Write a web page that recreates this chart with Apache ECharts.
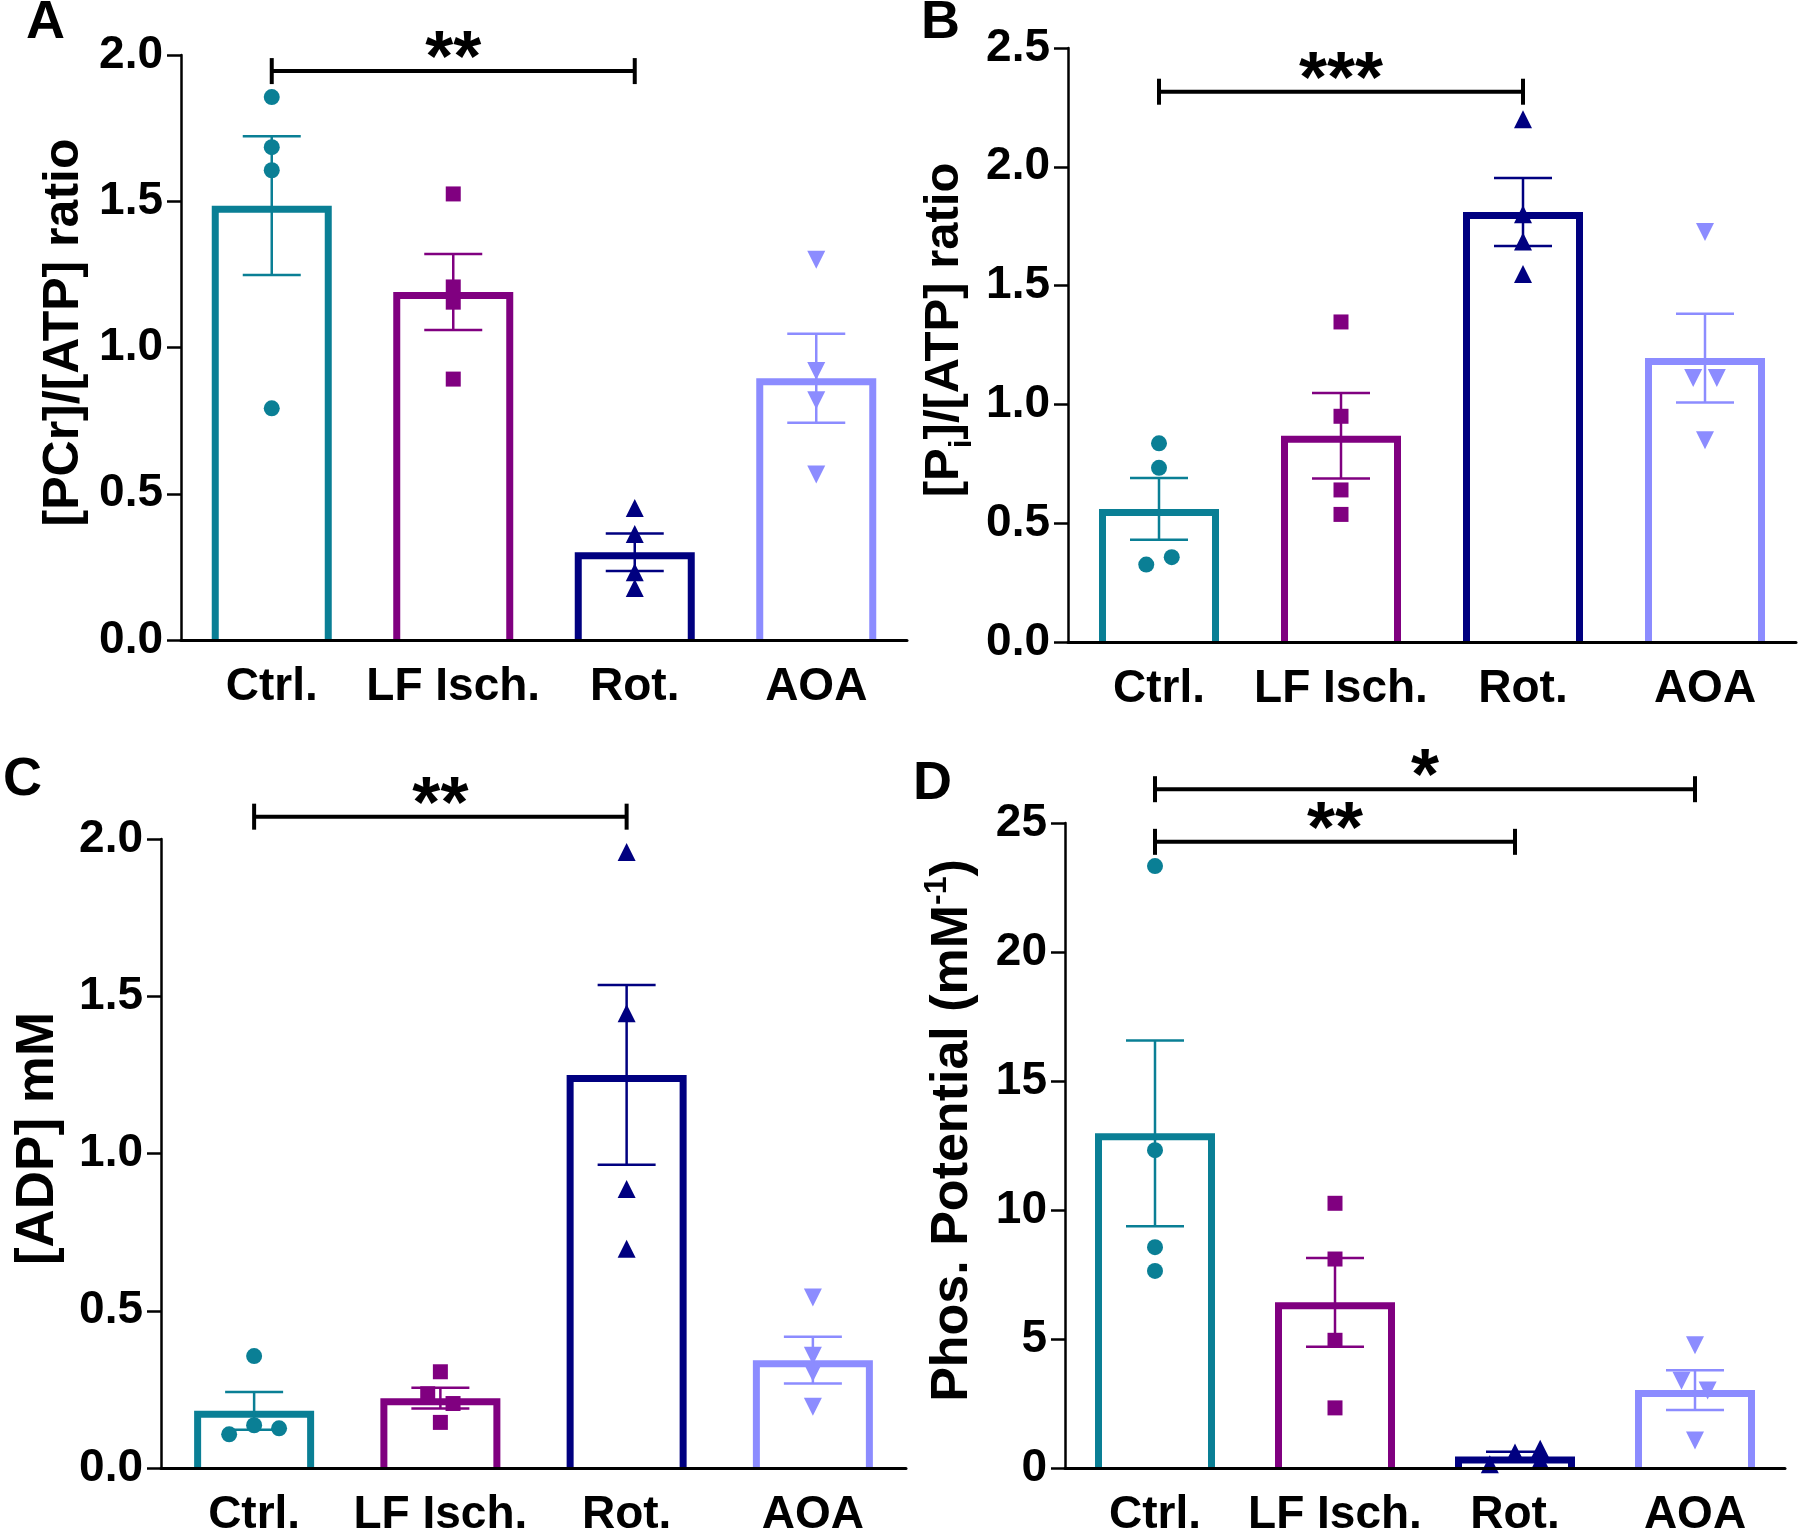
<!DOCTYPE html>
<html><head><meta charset="utf-8">
<script src="https://cdn.jsdelivr.net/npm/echarts@6/dist/echarts.min.js"></script>
<style>html,body{margin:0;padding:0;background:#fff}#c{width:1800px;height:1538px}</style>
</head><body><div id="c"></div><script>
// ---------- data ----------
const categories = ['Ctrl.', 'LF Isch.', 'Rot.', 'AOA'];
const groupColors = ['#0A7F95', '#800080', '#000080', '#8C8CFF'];

// Panel A: [PCr]/[ATP]
const pcrMeans = [1.485, 1.19, 0.30, 0.895];
const pcrSem = [0.237, 0.13, 0.064, 0.152];
const pcrPoints = [[1.856, 1.685, 1.606, 0.792], [1.525, 1.207, 1.155, 0.892], [0.451, 0.362, 0.232, 0.178], [1.30, 0.92, 0.82, 0.566]];
const pcrJitter = [[0, 0, 0, 0], [0, 0, 0, 0], [0, 0, 0, 0], [0, 0, 0, 0]];
const pcrBrackets = [[0, 2, 1.945]];
const pcrStars = ['**'];
const pcrTicks = [0, 0.5, 1.0, 1.5, 2.0];

// Panel B: [Pi]/[ATP]
const piMeans = [0.56, 0.868, 1.81, 1.195];
const piSem = [0.13, 0.18, 0.143, 0.187];
const piPoints = [[0.836, 0.733, 0.357, 0.326], [1.347, 0.95, 0.64, 0.537], [2.20, 1.80, 1.686, 1.549], [1.726, 1.111, 1.111, 0.849]];
const piJitter = [[0, 0, 0.07, -0.07], [0, 0, 0, 0], [0, 0, 0, 0], [0, -0.065, 0.065, 0]];
const piBrackets = [[0, 2, 2.316]];
const piStars = ['***'];
const piTicks = [0, 0.5, 1.0, 1.5, 2.0, 2.5];

// Panel C: [ADP] mM
const adpMeans = [0.182, 0.222, 1.25, 0.343];
const adpSem = [0.06, 0.033, 0.286, 0.074];
const adpPoints = [[0.356, 0.107, 0.136, 0.126], [0.306, 0.236, 0.205, 0.145], [1.959, 1.446, 0.887, 0.697], [0.542, 0.357, 0.303, 0.195]];
const adpJitter = [[0, -0.134, 0, 0.134], [0, -0.068, 0.068, 0], [0, 0, 0, 0], [0, 0, 0, 0]];
const adpBrackets = [[0, 2, 2.071]];
const adpStars = ['**'];
const adpTicks = [0, 0.5, 1.0, 1.5, 2.0];

// Panel D: Phosphorylation potential
const ppMeans = [12.97, 6.42, 0.45, 3.02];
const ppSem = [3.6, 1.72, 0.18, 0.77];
const ppPoints = [[23.33, 12.32, 8.56, 7.64], [10.26, 8.1, 4.95, 2.33], [0.15, 0.6, 0.75, 0.3], [4.76, 3.38, 3.0, 1.07]];
const ppJitter = [[0, 0, 0, 0], [0, 0, 0, 0], [-0.14, 0, 0.14, 0.14], [0, -0.075, 0.07, 0]];
const ppBrackets = [[0, 3, 26.31], [0, 2, 24.27]];
const ppStars = ['*', '**'];
const ppTicks = [0, 5, 10, 15, 20, 25];

// ---------- layout / styling ----------
const FONT = '"Liberation Sans", Arial, sans-serif';
const BAR_W = 113, BAR_LINE = 7;
const symbols = [
  {symbol: 'circle', size: 16, rotate: 0},
  {symbol: 'rect', size: 15, rotate: 0},
  {symbol: 'triangle', size: 18, rotate: 0},
  {symbol: 'triangle', size: 18, rotate: 180}
];
const panels = [
  {grid: {left: 181, top: 55, width: 726, height: 585}, ticks: pcrTicks, decimals: 1,
   name: '[PCr]/[ATP] ratio', nameGap: 92, nameSize: 50,
   means: pcrMeans, sem: pcrSem, points: pcrPoints, jitter: pcrJitter, brackets: pcrBrackets, stars: pcrStars,
   letter: 'A', lx: 26, ly: -4},
  {grid: {left: 1068, top: 48, width: 728, height: 594}, ticks: piTicks, decimals: 1,
   name: '[P{sub|i}]/[ATP] ratio', nameGap: 90, nameSize: 49,
   means: piMeans, sem: piSem, points: piPoints, jitter: piJitter, brackets: piBrackets, stars: piStars,
   letter: 'B', lx: 921, ly: -4},
  {grid: {left: 161, top: 839, width: 745, height: 635}, ticks: adpTicks, decimals: 1,
   name: '[ADP] mM', nameGap: 96, nameSize: 53,
   means: adpMeans, sem: adpSem, points: adpPoints, jitter: adpJitter, brackets: adpBrackets, stars: adpStars,
   letter: 'C', lx: 3, ly: 753},
  {grid: {left: 1065, top: 823, width: 720, height: 654}, ticks: ppTicks, decimals: 0,
   name: 'Phos. Potential (mM{sup|-1})', nameGap: 80, nameSize: 52,
   means: ppMeans, sem: ppSem, points: ppPoints, jitter: ppJitter, brackets: ppBrackets, stars: ppStars,
   letter: 'D', lx: 913, ly: 757}
];

const grids = [], xAxes = [], yAxes = [], series = [], graphics = [];
const N = panels.length;
panels.forEach((p, k) => {
  grids.push(Object.assign({containLabel: false}, p.grid));
  const t = p.ticks;
  const step = t[1] - t[0];
  xAxes[k] = {
    type: 'category', gridIndex: k, data: categories, boundaryGap: true, z: 10,
    axisLine: {onZero: false, lineStyle: {color: '#000', width: 3}},
    axisTick: {alignWithLabel: true, length: 14, lineStyle: {color: '#000', width: 2.5}},
    axisLabel: {interval: 0, margin: 24, color: '#000', fontSize: 46, fontWeight: 'bold', fontFamily: FONT},
    splitLine: {show: false}
  };
  xAxes[N + k] = {type: 'value', gridIndex: k, min: -0.5, max: 3.5, show: false};
  yAxes.push({
    type: 'value', gridIndex: k, min: t[0], max: t[t.length - 1], interval: step, z: 10,
    name: p.name, nameLocation: 'middle', nameGap: p.nameGap, nameRotate: 90,
    nameTextStyle: {color: '#000', fontSize: p.nameSize, fontWeight: 'bold', fontFamily: FONT,
      padding: [0, 0, 0, 30],
      rich: {
        sub: {fontSize: 32, fontWeight: 'bold', fontFamily: FONT, color: '#000', padding: [36, 0, 0, 0]},
        sup: {fontSize: 32, fontWeight: 'bold', fontFamily: FONT, color: '#000', padding: [0, 0, 32, 0]}
      }},
    axisLine: {show: true, onZero: false, lineStyle: {color: '#000', width: 2.5}},
    axisTick: {show: true, length: 14, lineStyle: {color: '#000', width: 2.5}},
    axisLabel: {margin: 18, color: '#000', fontSize: 46, fontWeight: 'bold', fontFamily: FONT,
      formatter: v => v.toFixed(p.decimals)},
    splitLine: {show: false}
  });
  // bar bodies (white fill)
  series.push({
    type: 'bar', xAxisIndex: k, yAxisIndex: k, barWidth: BAR_W, z: 1, silent: true,
    itemStyle: {color: '#fff', borderWidth: 0},
    data: p.means
  });
  // bar outlines: border lies inside the bar, open at the baseline
  series.push({
    type: 'custom', xAxisIndex: N + k, yAxisIndex: k, z: 2, silent: true,
    data: p.means.map((m, i) => [i, m]),
    renderItem: (params, api) => {
      const topPt = api.coord([api.value(0), api.value(1)]);
      const basePt = api.coord([api.value(0), 0]);
      const hw = BAR_W / 2, yt = topPt[1] + BAR_LINE / 2;
      return {type: 'polyline',
        shape: {points: [[topPt[0] - hw, basePt[1]], [topPt[0] - hw, yt], [topPt[0] + hw, yt], [topPt[0] + hw, basePt[1]]]},
        style: {stroke: groupColors[params.dataIndex], lineWidth: BAR_LINE, fill: null, lineJoin: 'miter'}};
    }
  });
  // error bars
  series.push({
    type: 'custom', xAxisIndex: N + k, yAxisIndex: k, z: 3, silent: true,
    data: p.means.map((m, i) => [i, m, p.sem[i]]),
    renderItem: (params, api) => {
      const i = api.value(0), m = api.value(1), s = api.value(2);
      const top = api.coord([i, m + s]), bot = api.coord([i, m - s]);
      const hw = 29, st = {stroke: groupColors[params.dataIndex], lineWidth: 2.5};
      return {type: 'group', children: [
        {type: 'line', shape: {x1: top[0], y1: top[1], x2: bot[0], y2: bot[1]}, style: st},
        {type: 'line', shape: {x1: top[0] - hw, y1: top[1], x2: top[0] + hw, y2: top[1]}, style: st},
        {type: 'line', shape: {x1: bot[0] - hw, y1: bot[1], x2: bot[0] + hw, y2: bot[1]}, style: st}
      ]};
    }
  });
  // individual points
  p.points.forEach((vals, i) => {
    series.push({
      type: 'scatter', xAxisIndex: N + k, yAxisIndex: k, z: 4, silent: true,
      symbol: symbols[i].symbol, symbolSize: symbols[i].size, symbolRotate: symbols[i].rotate,
      itemStyle: {color: groupColors[i], opacity: 1},
      data: vals.map((v, j) => [i + p.jitter[i][j], v])
    });
  });
  // significance brackets
  series.push({
    type: 'custom', xAxisIndex: N + k, yAxisIndex: k, z: 5, silent: true, clip: false,
    data: p.brackets,
    renderItem: (params, api) => {
      const a = api.coord([api.value(0), api.value(2)]);
      const b = api.coord([api.value(1), api.value(2)]);
      const st = {stroke: '#000', lineWidth: 4};
      const h = 13;
      return {type: 'group', children: [
        {type: 'line', shape: {x1: a[0], y1: a[1], x2: b[0], y2: b[1]}, style: st},
        {type: 'line', shape: {x1: a[0], y1: a[1] - h, x2: a[0], y2: a[1] + h}, style: st},
        {type: 'line', shape: {x1: b[0], y1: b[1] - h, x2: b[0], y2: b[1] + h}, style: st},
        {type: 'text', x: (a[0] + b[0]) / 2, y: a[1] - 10,
         style: {text: p.stars[params.dataIndex], font: 'bold 72px ' + FONT, fill: '#000',
                 textAlign: 'center', textVerticalAlign: 'middle'}}
      ]};
    }
  });
  graphics.push({type: 'text', left: p.lx, top: p.ly,
    style: {text: p.letter, font: 'bold 54px ' + FONT, fill: '#000'}});
});

const chart = echarts.init(document.getElementById('c'), null, {renderer: 'canvas'});
chart.setOption({
  animation: false,
  backgroundColor: '#fff',
  grid: grids, xAxis: xAxes, yAxis: yAxes, series: series, graphic: graphics
});
</script></body></html>
